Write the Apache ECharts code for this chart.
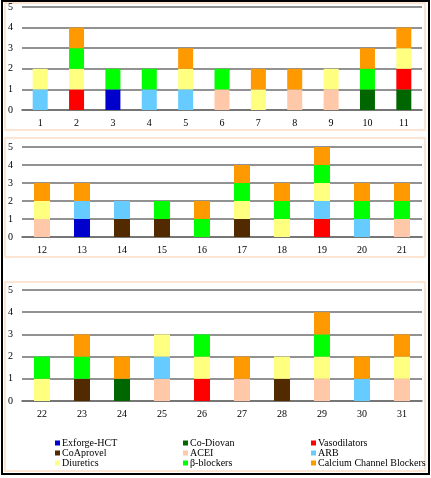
<!DOCTYPE html>
<html><head><meta charset="utf-8">
<script src="https://cdn.jsdelivr.net/npm/echarts@6/dist/echarts.min.js"></script>
<style>html,body{margin:0;padding:0;background:#fff}#c{width:431px;height:478px}</style>
</head><body><div id="c"></div>
<script>
// Days 1..31
const days = Array.from({length:31},(_,i)=>String(i+1));
const yTicks = [0,1,2,3,4,5];
const drugNames = ['Exforge-HCT','Co-Diovan','Vasodilators','CoAprovel','ACEI','ARB','Diuretics','\u03b2-blockers','Calcium Channel Blockers'];
const drugColors = ['#0000CC','#006600','#FF0000','#512A00','#FFC8A8','#66CCFF','#FFFF80','#00FF00','#FF9900'];
//                       1 2 3 4 5 6 7 8 9 10 11|12 13 14 15 16 17 18 19 20 21|22 23 24 25 26 27 28 29 30 31
const exforgeHCT   = [0,0,1,0,0,0,0,0,0,0,0, 0,1,0,0,0,0,0,0,0,0, 0,0,0,0,0,0,0,0,0,0];
const coDiovan     = [0,0,0,0,0,0,0,0,0,1,1, 0,0,0,0,0,0,0,0,0,0, 0,0,1,0,0,0,0,0,0,0];
const vasodilators = [0,1,0,0,0,0,0,0,0,0,1, 0,0,0,0,0,0,0,1,0,0, 0,0,0,0,1,0,0,0,0,0];
const coAprovel    = [0,0,0,0,0,0,0,0,0,0,0, 0,0,1,1,0,1,0,0,0,0, 0,1,0,0,0,0,1,0,0,0];
const acei         = [0,0,0,0,0,1,0,1,1,0,0, 1,0,0,0,0,0,0,0,0,1, 0,0,0,1,0,1,0,1,0,1];
const arb          = [1,0,0,1,1,0,0,0,0,0,0, 0,1,1,0,0,0,0,1,1,0, 0,0,0,1,0,0,0,0,1,0];
const diuretics    = [1,1,0,0,1,0,1,0,1,0,1, 1,0,0,0,0,1,1,1,0,0, 1,0,0,1,1,0,1,1,0,1];
const betaBlockers = [0,1,1,1,0,1,0,0,0,1,0, 0,0,0,1,1,1,1,1,1,1, 1,1,0,0,1,0,0,1,0,0];
const ccb          = [0,1,0,0,1,0,1,1,0,1,1, 1,1,0,0,1,1,1,1,1,1, 0,1,1,0,0,1,0,1,1,1];
const drugData = [exforgeHCT,coDiovan,vasodilators,coAprovel,acei,arb,diuretics,betaBlockers,ccb];
const panels = [[0,11],[11,21],[21,31]];

const font = '"Liberation Serif","DejaVu Serif",serif';
const grids = [
  {left:22,right:9,top:7,height:103},
  {left:22,right:9,top:147,height:90},
  {left:22,right:9,top:290,height:111}
];
const barW = [15,16,16];
const xAxes = [], yAxes = [], series = [];
panels.forEach((p,gi)=>{
  xAxes.push({type:'category',gridIndex:gi,data:days.slice(p[0],p[1]),
    axisLine:{show:true,lineStyle:{color:'#6e6e6e',width:1.6}},axisTick:{show:false},
    axisLabel:{color:'#000',fontFamily:font,fontSize:10,margin:8}});
  yAxes.push({type:'value',gridIndex:gi,min:yTicks[0],max:yTicks[yTicks.length-1],interval:1,
    axisLine:{show:false},axisTick:{show:false},
    axisLabel:{color:'#000',fontFamily:font,fontSize:10,margin:9},
    splitLine:{lineStyle:{color:'#6e6e6e',width:1.6}}});
  drugNames.forEach((n,k)=>{
    series.push({type:'bar',name:n,xAxisIndex:gi,yAxisIndex:gi,stack:'s'+gi,barWidth:barW[gi],
      itemStyle:{color:drugColors[k]},
      data:drugData[k].slice(p[0],p[1]).map(v=>v?v:'-')});
  });
});
const legendCommon = {orient:'vertical',itemWidth:5,itemHeight:5,itemGap:0,icon:'rect',
  textStyle:{fontFamily:font,fontSize:10,color:'#000',lineHeight:10,padding:[0,0,0,-3]},selectedMode:false,padding:0};
const chart = echarts.init(document.getElementById('c'),null,{renderer:'canvas'});
chart.setOption({
  animation:false,
  grid:grids,xAxis:xAxes,yAxis:yAxes,series:series,
  legend:[
    Object.assign({left:55,top:438,data:[drugNames[0],drugNames[3],drugNames[6]]},legendCommon),
    Object.assign({left:183,top:438,data:[drugNames[1],drugNames[4],drugNames[7]]},legendCommon),
    Object.assign({left:311,top:438,data:[drugNames[2],drugNames[5],drugNames[8]]},legendCommon)
  ],
  graphic:[
    {type:'rect',shape:{x:2,y:1,width:427,height:473},style:{fill:'none',stroke:'#000',lineWidth:2},z:-1},
    {type:'rect',shape:{x:5,y:3,width:420,height:127},style:{fill:'none',stroke:'#FDE5D3',lineWidth:2},z:-1},
    {type:'rect',shape:{x:5,y:138,width:420,height:119},style:{fill:'none',stroke:'#FDE5D3',lineWidth:2},z:-1},
    {type:'rect',shape:{x:5,y:282,width:420,height:189},style:{fill:'none',stroke:'#FDE5D3',lineWidth:2},z:-1}
  ]
});
</script></body></html>
